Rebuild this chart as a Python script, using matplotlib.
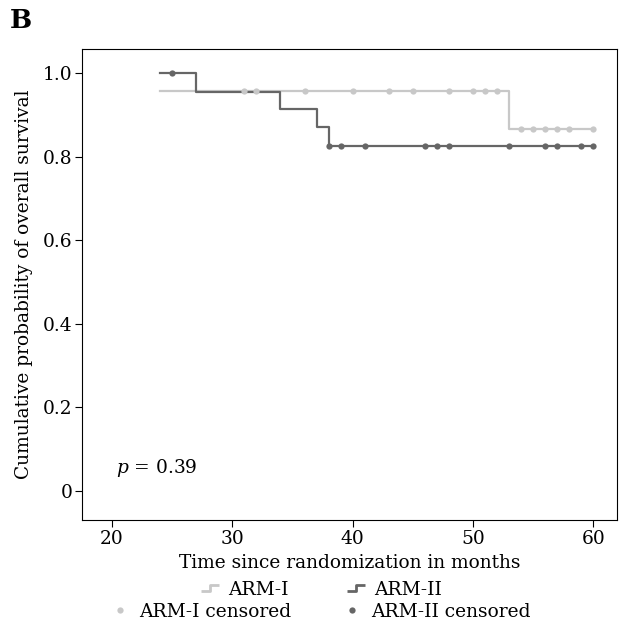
import matplotlib
matplotlib.use('Agg')
import matplotlib.pyplot as plt
from matplotlib.lines import Line2D
from matplotlib.path import Path

plt.rcParams['font.family'] = ['DejaVu Serif']
plt.rcParams['mathtext.fontset'] = 'custom'
plt.rcParams['mathtext.it'] = 'DejaVu Serif:italic'
FS = 13.4

# Kaplan-Meier steps (time in months, survival after each step)
arm1_times = [24, 53, 60]
arm1_surv = [0.957, 0.867, 0.867]
arm1_cens_t = [31, 32, 36, 40, 43, 45, 48, 50, 51, 52, 54, 55, 56, 57, 58, 60]
arm1_cens_s = [0.957] * 10 + [0.867] * 6

arm2_times = [24, 27, 34, 37, 38, 60]
arm2_surv = [1.0, 0.955, 0.913, 0.870, 0.826, 0.826]
arm2_cens_t = [25, 38, 39, 41, 46, 47, 48, 53, 56, 57, 59, 60]
arm2_cens_s = [1.0] + [0.826] * 11

y_ticks = [0, 0.2, 0.4, 0.6, 0.8, 1.0]
y_labels = ['0', '0.2', '0.4', '0.6', '0.8', '1.0']
x_ticks = [20, 30, 40, 50, 60]

c1 = '#c8c8c8'
c2 = '#666666'

fig = plt.figure(figsize=(6.26, 6.27), dpi=100)
ax = fig.add_axes([0.131, 0.171, 0.855, 0.751])

ax.step(arm1_times, arm1_surv, where='post', color=c1, lw=1.6)
ax.step(arm2_times, arm2_surv, where='post', color=c2, lw=1.6)
ax.plot(arm1_cens_t, arm1_cens_s, 'o', color=c1, ms=4.5, mec='none')
ax.plot(arm2_cens_t, arm2_cens_s, 'o', color=c2, ms=4.5, mec='none')

ax.set_xlim(17.5, 62)
ax.set_ylim(-0.07, 1.058)
ax.set_xticks(x_ticks)
ax.set_yticks(y_ticks)
ax.set_yticklabels(y_labels)
ax.tick_params(labelsize=FS, length=5, direction='out', pad=2)
ax.set_xlabel('Time since randomization in months', fontsize=FS, labelpad=5)
ax.set_ylabel('Cumulative probability of overall survival', fontsize=FS, labelpad=7)

ax.text(20.35, 0.055, r'$p$ = 0.39', fontsize=FS, ha='left', va='center')

fig.text(0.016, 0.968, 'B', fontsize=19, fontweight='bold', ha='left', va='center')

step_marker = Path([(-1, -0.35), (0, -0.35), (0, 0.35), (1, 0.35)],
                   [Path.MOVETO, Path.LINETO, Path.LINETO, Path.LINETO])
line_handles = [
    Line2D([], [], marker=step_marker, ls='none', ms=13, mew=2, mec=c1, fillstyle='none'),
    Line2D([], [], marker=step_marker, ls='none', ms=13, mew=2, mec=c2, fillstyle='none'),
]
fig.legend(line_handles, ['ARM-I', 'ARM-II'], ncol=2, loc='center',
           bbox_to_anchor=(0.512, 0.059), frameon=False, fontsize=FS,
           handlelength=1.2, handletextpad=0.4, columnspacing=3.0,
           borderpad=0, borderaxespad=0)
point_handles = [
    Line2D([], [], marker='o', ls='none', ms=4.5, color=c1, mec='none'),
    Line2D([], [], marker='o', ls='none', ms=4.5, color=c2, mec='none'),
]
fig.legend(point_handles, ['ARM-I censored', 'ARM-II censored'], ncol=2,
           loc='center', bbox_to_anchor=(0.512, 0.024), frameon=False,
           fontsize=FS, handlelength=1.0, handletextpad=0.5,
           columnspacing=2.8, borderpad=0, borderaxespad=0)

fig.savefig('out.png', dpi=100)
